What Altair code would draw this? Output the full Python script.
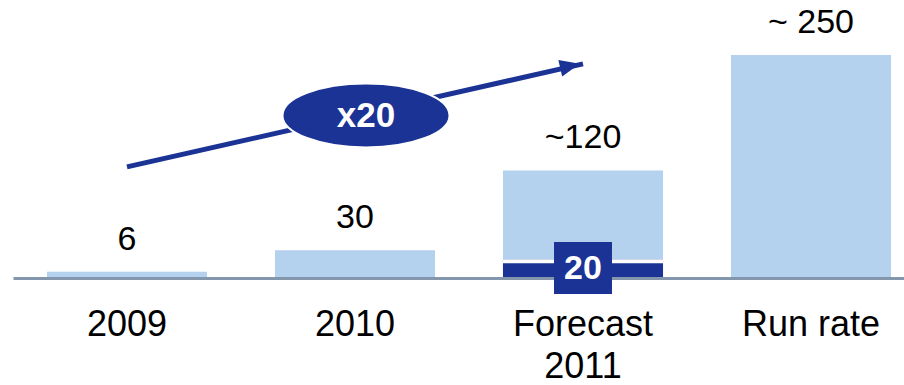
import altair as alt
import pandas as pd

# ---- data ----
categories = ["2009", "2010", "Forecast 2011", "Run rate"]
values = [6, 30, 120, 250]
value_labels = ["6", "30", "~120", "~ 250"]

highlight_category = ["Forecast 2011"]
highlight_value = [20]
highlight_label = ["20"]

arrow_cat = ["2009", "Forecast 2011"]
arrow_val = [124, 240]

growth_cat = ["2010"]
growth_val = [182]
growth_label = ["x20"]

LIGHT = "#b4d1ee"
DARK = "#1b3395"
FONT = "Liberation Sans"

bars_df = pd.DataFrame({"cat": categories, "value": values, "label": value_labels})
hl_df = pd.DataFrame({"cat": highlight_category, "value": highlight_value,
                      "label": highlight_label,
                      "mid": [v / 2 for v in highlight_value]})
arrow_df = pd.DataFrame({"cat": [arrow_cat[0]], "val": [arrow_val[0]],
                         "cat2": [arrow_cat[1]], "val2": [arrow_val[1]]})
head_df = pd.DataFrame({"cat": [arrow_cat[1]], "val": [arrow_val[1]]})
growth_df = pd.DataFrame({"cat": growth_cat, "val": growth_val, "label": growth_label})

xscale = alt.Scale(domain=categories, range=[13, 925], paddingInner=0.298, paddingOuter=0.149)
yscale = alt.Scale(domain=[0, 312])

x_axis = alt.Axis(
    title=None, ticks=False, domainColor="#8496ab", domainWidth=3, offset=1,
    labelFont=FONT, labelFontSize=36, labelColor="#000000", labelAngle=0,
    labelPadding=29, labelLineHeight=42, labelOverlap=False, labelFlush=False,
    labelExpr="datum.label == 'Forecast 2011' ? ['Forecast', '2011'] : datum.label",
)

X = alt.X("cat:N", scale=xscale, axis=x_axis, sort=categories)

bars = alt.Chart(bars_df).mark_bar(color=LIGHT).encode(
    x=X, y=alt.Y("value:Q", scale=yscale, axis=None)
)

value_text = alt.Chart(bars_df).mark_text(
    font=FONT, fontSize=34, baseline="alphabetic", dy=-22, color="#000000"
).encode(x=X, y=alt.Y("value:Q", scale=yscale, axis=None), text="label:N")

dark = alt.Chart(hl_df).mark_bar(color=DARK).encode(
    x=X, y=alt.Y("value:Q", scale=yscale, axis=None)
)
gap = alt.Chart(hl_df).mark_tick(
    orient="horizontal", color="white", thickness=4, size=160, opacity=1, yOffset=2
).encode(x=X, y=alt.Y("value:Q", scale=yscale, axis=None))

box = alt.Chart(hl_df).mark_point(
    shape="M -1.115 -1 L 1.115 -1 L 1.115 1 L -1.115 1 Z",
    size=2704, filled=True, color=DARK, opacity=1, strokeWidth=0
).encode(x=X, y=alt.Y("mid:Q", scale=yscale, axis=None))
box_text = alt.Chart(hl_df).mark_text(
    font=FONT, fontSize=34, fontWeight="bold", color="white", baseline="middle", dy=1
).encode(x=X, y=alt.Y("mid:Q", scale=yscale, axis=None), text="label:N")

arrow_line = alt.Chart(arrow_df).mark_rule(color=DARK, strokeWidth=5).encode(
    x=X, x2=alt.X2("cat2:N"),
    y=alt.Y("val:Q", scale=yscale, axis=None), y2="val2:Q",
)
arrow_head = alt.Chart(head_df).mark_point(
    shape="M 1 0 L -1 -0.85 L -1 0.85 Z", size=400, filled=True, color=DARK,
    opacity=1, angle=347, xOffset=-13, yOffset=2, strokeWidth=0
).encode(x=X, y=alt.Y("val:Q", scale=yscale, axis=None))

ellipse = alt.Chart(growth_df).mark_point(
    shape="M -1 0 A 1 0.383 0 1 1 1 0 A 1 0.383 0 1 1 -1 0 Z",
    size=27889, filled=True, fill=DARK, stroke="white", strokeWidth=2,
    opacity=1, xOffset=11
).encode(x=X, y=alt.Y("val:Q", scale=yscale, axis=None))
ellipse_text = alt.Chart(growth_df).mark_text(
    font=FONT, fontSize=35, fontWeight="bold", color="white", baseline="middle",
    dx=11, dy=1
).encode(x=X, y=alt.Y("val:Q", scale=yscale, axis=None), text="label:N")

chart = alt.layer(
    bars, dark, gap, value_text, arrow_line, arrow_head, ellipse, ellipse_text, box, box_text
).properties(
    width=904, height=277,
    padding={"left": 0, "top": 0, "right": 0, "bottom": 108},
    autosize=alt.AutoSizeParams(type="none"),
    background="white"
).configure_view(stroke=None)

chart.save("out.html", embed_options={"renderer": "svg", "actions": False})
